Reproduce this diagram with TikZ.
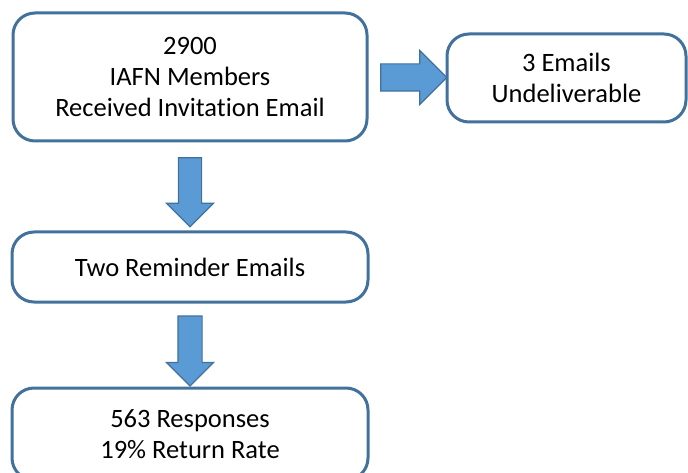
\documentclass[tikz,border=0pt]{standalone}
\usepackage{fontspec}
\setmainfont[RawFeature=-liga]{Carlito}
\usetikzlibrary{shapes.arrows,calc}

\definecolor{boxline}{HTML}{41719C}
\definecolor{arrowfill}{HTML}{5B9BD5}

\tikzset{
    stagebox/.style={draw=boxline, line width=3pt, rounded corners=22pt,
        fill=white, align=center, inner sep=0pt,
        font=\fontsize{26.5}{31}\selectfont},
    blockarrow/.style={single arrow, draw=boxline, fill=arrowfill,
        line width=1.2pt, inner xsep=0pt}
}

\begin{document}
\begin{tikzpicture}[x=1pt, y=-1pt]

    \useasboundingbox (0,0) rectangle (688,473);
    \clip (0,0) rectangle (688,473);

    % Stages of the mailing
    \node[stagebox, minimum width=354pt, minimum height=128pt] (invite) at (190,77)
        {2900\\IAFN Members\\Received Invitation Email};
    \node[stagebox, minimum width=239pt, minimum height=88pt] (undeliv) at (566.5,78)
        {3 Emails\\Undeliverable};
    \node[stagebox, minimum width=356pt, minimum height=70pt] (remind) at (190,267)
        {Two Reminder Emails};
    \node[stagebox, minimum width=356pt, minimum height=92pt] (result) at (190,434)
        {563 Responses\\19\% Return Rate};

    % Block arrows between the stages
    \node[blockarrow, inner ysep=13pt, single arrow head extend=13.5pt,
        minimum height=66pt] (toundeliv) at ($(invite.east)!0.5!(undeliv.west)$) {};
    \node[blockarrow, rotate=-90, inner ysep=11pt, single arrow head extend=12pt,
        minimum height=69pt] (toremind) at ($(invite.south)!0.5!(remind.north)$) {};
    \node[blockarrow, rotate=-90, inner ysep=11.5pt, single arrow head extend=11.5pt,
        minimum height=70pt] (toresult) at ($(remind.south)!0.5!(result.north)$) {};

\end{tikzpicture}
\end{document}
